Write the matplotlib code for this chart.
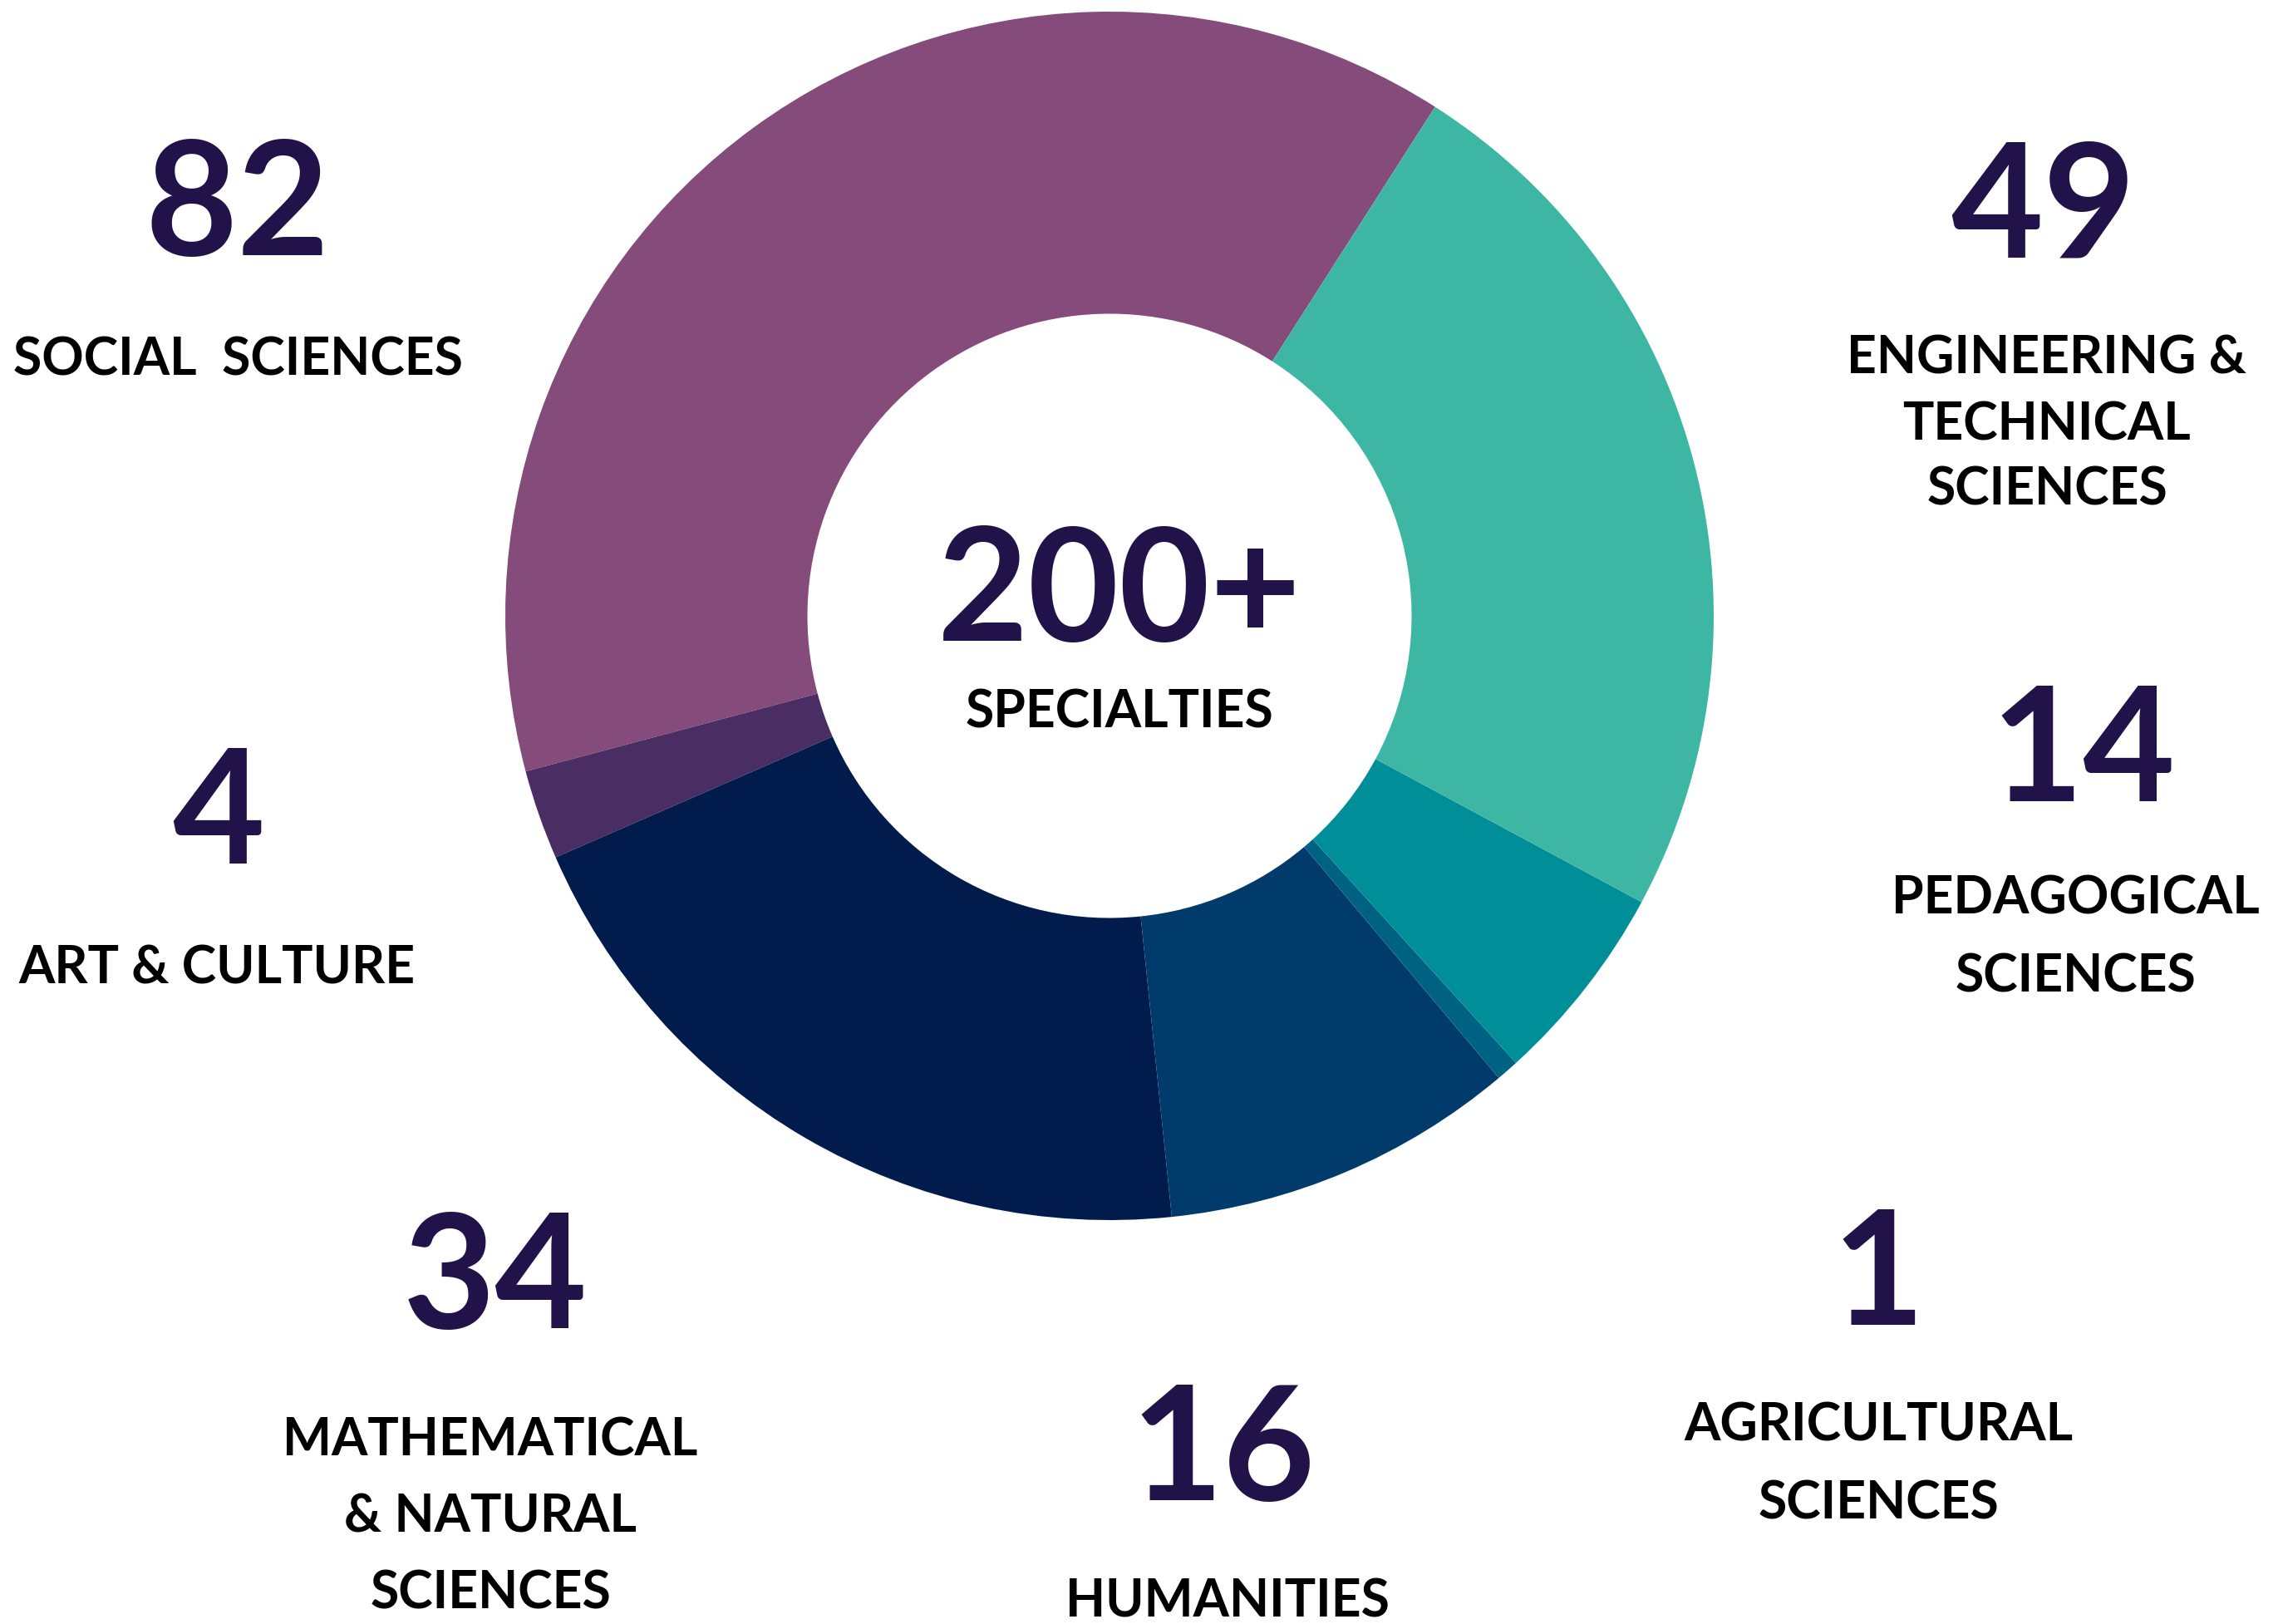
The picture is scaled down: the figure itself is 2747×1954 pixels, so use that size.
import matplotlib.pyplot as plt

# Arc shares of the ring (percent of the circle),
# listed counter-clockwise starting at the top right boundary
categories = ['Social Sciences', 'Art & Culture', 'Mathematical & Natural Sciences',
              'Humanities', 'Agricultural Sciences', 'Pedagogical Sciences',
              'Engineering & Technical Sciences']
arc_share = [38.2, 2.4, 20.1, 9.5, 0.6, 5.4, 23.8]
colors = ['#844b7b', '#4a2d63', '#001b4c', '#003b6b', '#006283', '#008f99', '#3db7a3']

# Counts shown next to the ring
counts = ['82', '4', '34', '16', '1', '14', '49']
labels = [['SOCIAL  SCIENCES'], ['ART & CULTURE'], ['MATHEMATICAL', '& NATURAL', 'SCIENCES'],
          ['HUMANITIES'], ['AGRICULTURAL', 'SCIENCES'], ['PEDAGOGICAL', 'SCIENCES'],
          ['ENGINEERING &', 'TECHNICAL', 'SCIENCES']]
total_text = '200+'
total_label = 'SPECIALTIES'

W, H = 2747, 1954
fig = plt.figure(figsize=(W / 100, H / 100), dpi=100)
ax = fig.add_axes([0, 0, 1, 1])

cx, cy, r = 1335, H - 741, 727
ax.pie(arc_share, colors=colors, startangle=57.4, counterclock=True,
       center=(cx, cy), radius=r, wedgeprops=dict(width=r * 0.5, linewidth=0))
ax.set_xlim(0, W)
ax.set_ylim(0, H)
ax.set_aspect('equal')
ax.axis('off')

num_color = '#22124a'
font = 'Lato'

# number placement: (x centre, baseline in pixels from top)
num_pos = [(286, 307), (263, 1039), (596, 1598), (1472, 1805),
           (2260, 1594), (2507, 964), (2458, 310)]
# label centre x and baseline of each line
lab_pos = [(286, [452]), (261, [1183]), (590, [1752, 1843, 1936]), (1477, [1946]),
           (2260, [1734, 1827]), (2497, [1100, 1193]), (2463, [450, 529, 608])]

for num, (nx, ny), lines, (lx, lys) in zip(counts, num_pos, labels, lab_pos):
    ax.text(nx, H - ny, num, ha='center', va='baseline', fontsize=138,
            fontweight='bold', color=num_color, family=font)
    for line, ly in zip(lines, lys):
        ax.text(lx, H - ly, line, ha='center', va='baseline', fontsize=45,
                fontweight='bold', color='black', family=font)

ax.text(1347, H - 771, total_text, ha='center', va='baseline', fontsize=136,
        fontweight='bold', color=num_color, family=font)
ax.text(1347, H - 876, total_label, ha='center', va='baseline', fontsize=45,
        fontweight='bold', color='black', family=font)

fig.savefig('out.png', dpi=100, facecolor='white')
